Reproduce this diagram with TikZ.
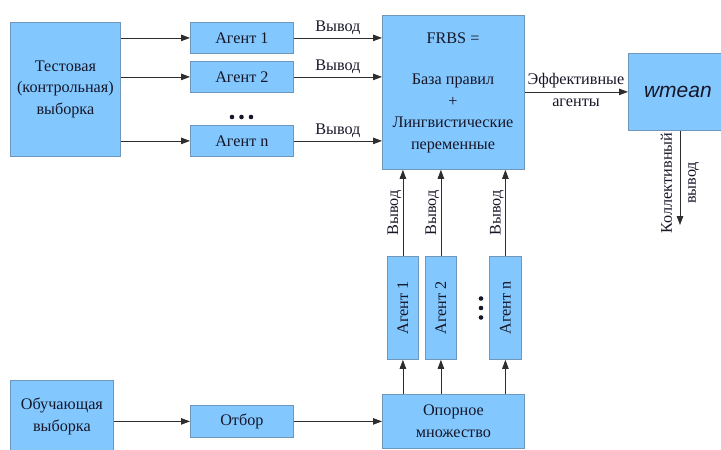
\documentclass[tikz,border=0pt]{standalone}
\usepackage{fontspec}
\setmainfont{Liberation Serif}
\newfontfamily\wfont{Liberation Sans}
\usetikzlibrary{arrows.meta}
\definecolor{boxfill}{RGB}{130,200,255}
\definecolor{boxline}{RGB}{112,150,185}
\definecolor{txt}{RGB}{22,22,40}
\definecolor{lin}{RGB}{45,45,45}
\begin{document}
\begin{tikzpicture}[x=1pt,y=-1pt,
  every node/.style={text=txt, font=\fontsize{16.2}{21.7}\selectfont},
  box/.style={draw=boxline, fill=boxfill, line width=0.8pt, inner sep=0pt, align=center, anchor=north west},
  arr/.style={draw=lin, line width=0.8pt, -{Triangle[length=9pt,width=6.5pt]}},
  lbl/.style={inner sep=1.5pt}]
\useasboundingbox (0,0) rectangle (721,450);
% top-left
\node[box, minimum width=110pt, minimum height=134pt] (test) at (10,22) {Тестовая\\(контрольная)\\выборка};
\node[box, minimum width=103pt, minimum height=31pt] (a1) at (190,22) {Агент 1};
\node[box, minimum width=103pt, minimum height=31pt] (a2) at (190,61) {Агент 2};
\node[box, minimum width=103pt, minimum height=31pt] (an) at (190,125) {Агент n};
\fill[txt] (232,117) circle (2.3) (241.5,117) circle (2.3) (251,117) circle (2.3);
% FRBS
\node[box, minimum width=142pt, minimum height=154pt] (frbs) at (382,15) {};
\node[lbl] (frbsT) at (453,38) {FRBS =};
\node[lbl, align=center, anchor=north] (frbsB) at (453,72) {База правил\\+\\Лингвистические\\переменные};
% wmean
\node[box, minimum width=94pt, minimum height=77pt] (wm) at (628,53) {\hspace*{5pt}\wfont\itshape\fontsize{21}{23}\selectfont wmean};
% bottom agents
\node[box, minimum width=31pt, minimum height=103pt] (b1) at (387,256) {};
\node[box, minimum width=31pt, minimum height=103pt] (b2) at (425,256) {};
\node[box, minimum width=32pt, minimum height=103pt] (bn) at (489,256) {};
\node[rotate=90] at (b1.center) {Агент 1};
\node[rotate=90] at (b2.center) {Агент 2};
\node[rotate=90] at (bn.center) {Агент n};
\fill[txt] (481,298.5) circle (2.3) (481,308) circle (2.3) (481,317.5) circle (2.3);
\node[box, minimum width=142pt, minimum height=54pt] (op) at (382,394) {Опорное\\множество};
% bottom-left
\node[box, minimum width=103pt, minimum height=72pt] (ob) at (10,380) {Обучающая\\выборка};
\node[box, minimum width=103pt, minimum height=32pt] (ot) at (190,405) {Отбор};
% connectors
\foreach \a in {a1,a2,an}{
  \draw[arr] (test.east |- \a.west) -- (\a.west);
  \draw[arr] (\a.east) -- node[lbl, above, yshift=1pt] {Вывод} (frbs.west |- \a.east);
}
\foreach \b in {b1,b2,bn}{
  \draw[arr] (op.north -| \b.south) -- (\b.south);
  \draw[arr] (\b.north) -- (frbs.south -| \b.north);
  \node[rotate=90, anchor=south, lbl] at ([yshift=43pt]\b.north) {Вывод};
}
\draw[arr] (frbs.east |- wm.west) -- (wm.west);
\node[lbl, anchor=south] at (576,90) {Эффективные};
\node[lbl, anchor=north] at (576,97) {агенты};
\coordinate (co) at (680,225);
\draw[arr] (wm.south -| co) -- (co);
\node[rotate=90, align=center, font=\fontsize{16.2}{24}\selectfont] at (680,183) {Коллективный\\вывод};
\draw[arr] (ob.east |- ot.west) -- (ot.west);
\draw[arr] (ot.east) -- (op.west |- ot.east);
\end{tikzpicture}
\end{document}
